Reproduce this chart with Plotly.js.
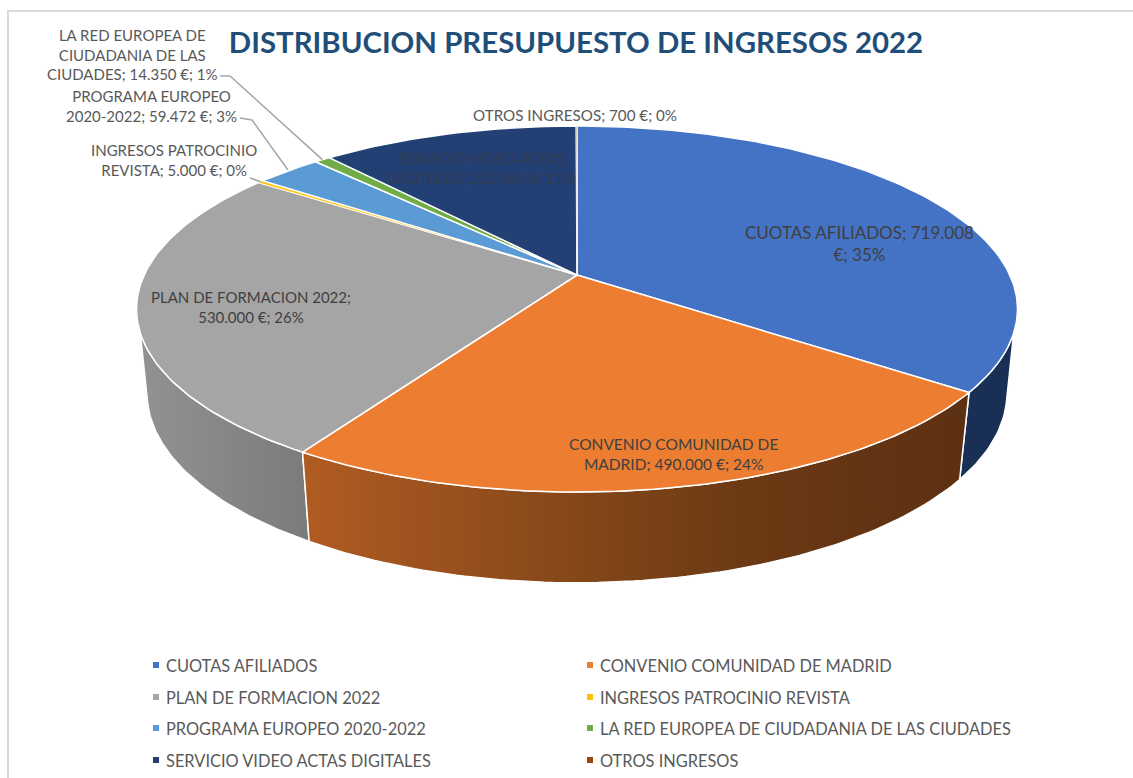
<!DOCTYPE html>
<html><head><meta charset="utf-8">
<script src="https://cdn.plot.ly/plotly-3.0.1.min.js"></script>
<style>html,body{margin:0;padding:0;background:#fff}#c{width:1133px;height:778px}</style>
</head><body><div id="c"></div>
<script>
const categories = ["CUOTAS AFILIADOS","CONVENIO COMUNIDAD DE MADRID","PLAN DE FORMACION 2022","INGRESOS PATROCINIO REVISTA","PROGRAMA EUROPEO 2020-2022","LA RED EUROPEA DE CIUDADANIA DE LAS CIUDADES","SERVICIO VIDEO ACTAS DIGITALES","OTROS INGRESOS"];
const values = [719008,490000,530000,5000,59472,14350,231485,700];
const colors = ["#4472c4","#ed7d31","#a5a5a5","#ffc000","#5b9bd5","#70ad47","#234075","#9e480e"];
const dataLabels = [
 "CUOTAS AFILIADOS; 719.008<br>€; 35%",
 "CONVENIO COMUNIDAD DE<br>MADRID; 490.000 €; 24%",
 "PLAN DE FORMACION 2022;<br>530.000 €; 26%",
 "INGRESOS PATROCINIO<br>REVISTA; 5.000 €; 0%",
 "PROGRAMA EUROPEO<br>2020-2022; 59.472 €; 3%",
 "LA RED EUROPEA DE<br>CIUDADANIA DE LAS<br>CIUDADES; 14.350 €; 1%",
 "SERVICIO VIDEO ACTAS<br>DIGITALES; 231.485 €; 11%",
 "OTROS INGRESOS; 700 €; 0%"];
const labelX = [859,673,251,173.5,151.5,132,482,575];
const labelY = [243,454,307,160,106,54,168,115];
const labelSize = [17,15.5,15,15,15,15,15.1,15.2];
const labelColor = ["#404040","#404040","#404040","#595959","#595959","#595959","#353c50","#595959"];
const legendX = [156,590,156,590,156,590,156,590];
const legendY = [665,665,697,697,728,728,760,760];

// projection of the tilted disc
const cx=577, cy=275, A=432.8, C=176.7, P=0.1858;
const total = values.reduce((a,b)=>a+b,0);
function topPt(t){const r=t*Math.PI/180,u=Math.sin(r),v=Math.cos(r),d=1+P*v;return [cx+A*u/d, cy-C*v/d];}
function lowPt(t){const r=t*Math.PI/180,u=Math.sin(r),v=Math.cos(r),d=1+P*v;return [cx+0.976*A*u/d, 358-183*v/d];}
function arc(f,a,b){const n=Math.max(2,Math.ceil(Math.abs(b-a)));const o=[];for(let i=0;i<=n;i++)o.push(f(a+(b-a)*i/n));return o;}
let cum=0; const starts=[],ends=[];
values.forEach(v=>{starts.push(cum/total*360);cum+=v;ends.push(cum/total*360);});

const traces=[];
function wall(a,b,a2,b2,fill){
  const pts=arc(topPt,a,b).concat(arc(lowPt,b2,a2)); pts.push(pts[0]);
  const tr={type:'scatter',mode:'lines',x:pts.map(p=>p[0]),y:pts.map(p=>p[1]),fill:'toself',
    line:{color:'#ffffff',width:1.5},hoverinfo:'skip',showlegend:false};
  if(fill.grad) tr.fillgradient={type:'horizontal',colorscale:fill.grad}; else tr.fillcolor=fill.color;
  traces.push(tr);
}
wall(108,ends[0],104,ends[0],{color:'#1a2f55'});
wall(ends[1],252,ends[1],256,{grad:[[0,'#929292'],[1,'#7b7b7b']]});
wall(starts[1],ends[1],starts[1],ends[1],{grad:[[0,'#b05c22'],[0.65,'#6c3a14'],[1,'#5c3012']]});
values.forEach((v,i)=>{
  const pts=[[cx,cy]].concat(arc(topPt,starts[i],ends[i])); pts.push([cx,cy]);
  traces.push({type:'scatter',mode:'lines',x:pts.map(p=>p[0]),y:pts.map(p=>p[1]),fill:'toself',
    fillcolor:colors[i],line:{color:'#ffffff',width:(i===3||i===7)?0.6:1.5},name:categories[i],
    text:dataLabels[i].replace(/<br>/g,' '),hoverinfo:'text',showlegend:false});
});
// leader lines: label corner to slice rim
function mid(i){return topPt((starts[i]+ends[i])/2);}
const leaders=[[[220,76],[230,76],mid(5)],[[240,118],[252,120],[288,170]],[[250,178],mid(3)]];
leaders.forEach(l=>traces.push({type:'scatter',mode:'lines',x:l.map(p=>p[0]),y:l.map(p=>p[1]),
  line:{color:'#a6a6a6',width:1.5},hoverinfo:'skip',showlegend:false}));
// legend swatches
traces.push({type:'scatter',mode:'markers',x:legendX,y:legendY,marker:{symbol:'square',size:6,color:colors,line:{width:0}},hoverinfo:'skip',showlegend:false});

const annotations=[];
dataLabels.forEach((t,i)=>annotations.push({x:labelX[i],y:labelY[i],xref:'x',yref:'y',text:t,showarrow:false,align:'center',xanchor:'center',yanchor:'middle',font:{family:'Lato, sans-serif',size:labelSize[i],color:labelColor[i]}}));
categories.forEach((t,i)=>annotations.push({x:legendX[i]+8,y:legendY[i],xref:'x',yref:'y',text:t,showarrow:false,xanchor:'left',yanchor:'middle',font:{family:'Lato, sans-serif',size:16.4,color:'#595959'}}));

const layout={width:1133,height:778,margin:{l:0,r:0,t:0,b:0},paper_bgcolor:'#fff',plot_bgcolor:'#fff',showlegend:false,
  title:{text:'<b>DISTRIBUCION PRESUPUESTO DE INGRESOS 2022</b>',x:576/1133,xanchor:'center',xref:'paper',y:1-43/778,yanchor:'middle',yref:'paper',font:{family:'Lato, sans-serif',size:29.4,color:'#1f4e79'}},
  xaxis:{range:[0,1133],visible:false,fixedrange:true},
  yaxis:{range:[778,0],visible:false,fixedrange:true},
  shapes:[{type:'rect',xref:'x',yref:'y',x0:8,y0:11,x1:1150,y1:800,line:{color:'#d9d9d9',width:2},fillcolor:'rgba(0,0,0,0)',layer:'below'}],
  annotations:annotations};
Plotly.newPlot('c',traces,layout,{displayModeBar:false,responsive:false});
</script></body></html>
